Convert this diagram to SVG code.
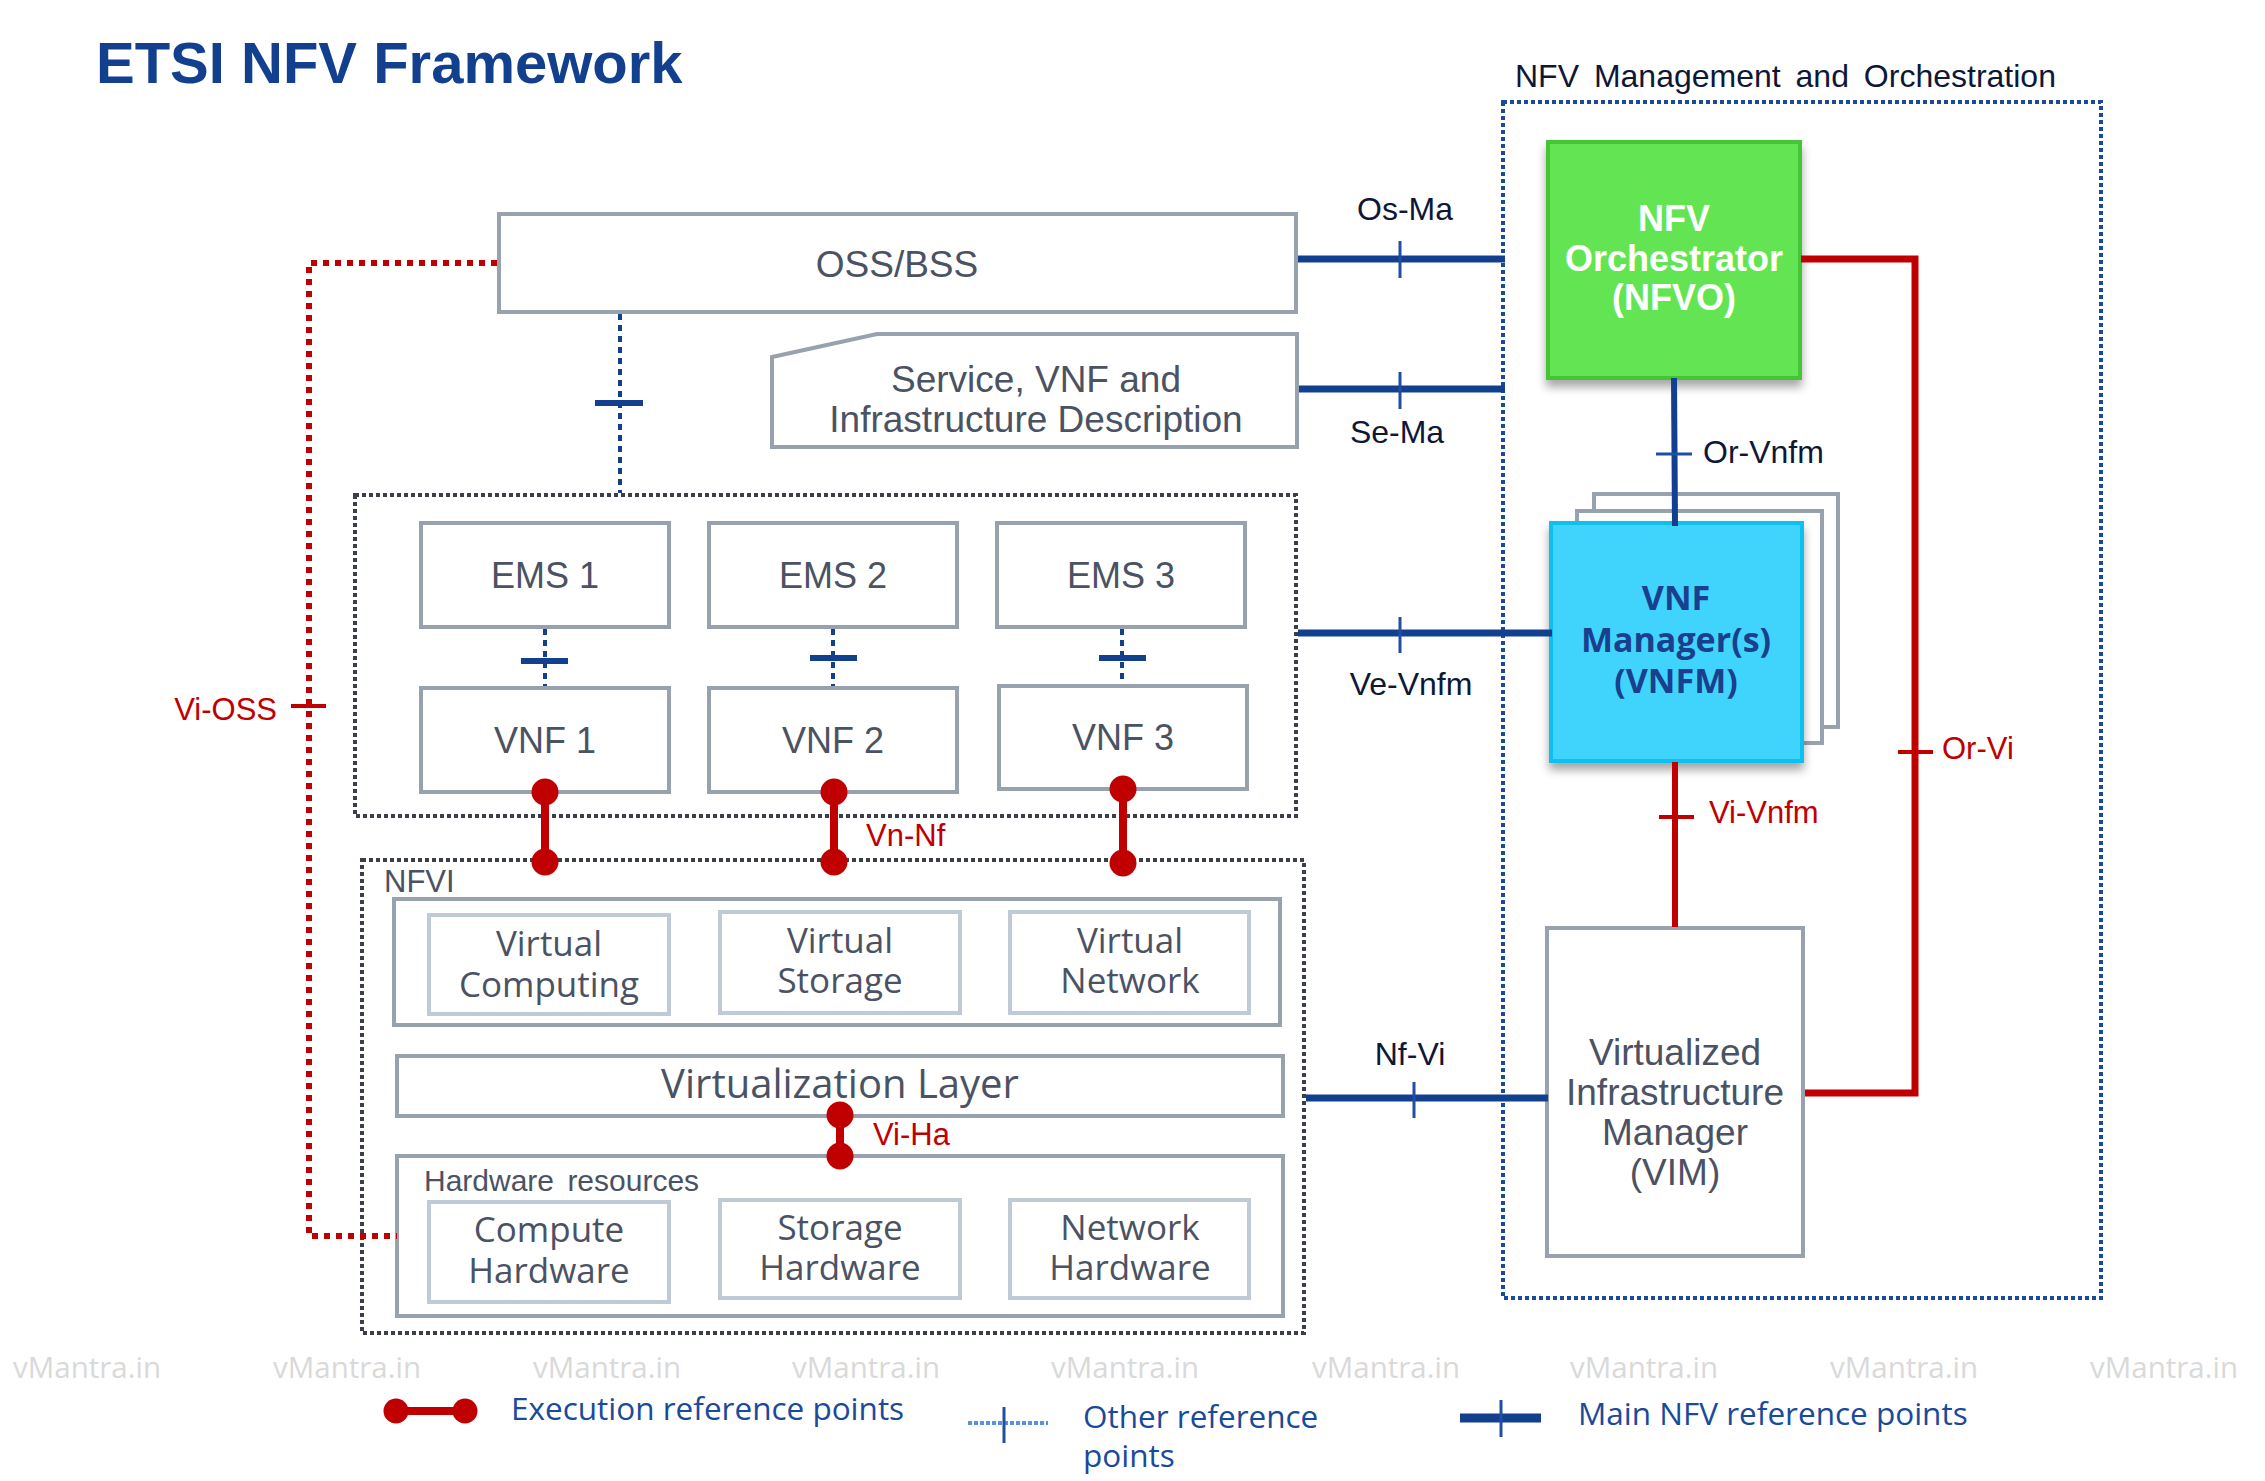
<svg xmlns="http://www.w3.org/2000/svg" width="2265" height="1481" viewBox="0 0 2265 1481">
<defs>
<style>
.box{fill:#fff;stroke:#98a2ae;stroke-width:4}
.ibox{fill:#fff;stroke:#c0cad6;stroke-width:4}
.t{font-family:"Liberation Sans",Arial,sans-serif;fill:#4a5263;text-anchor:middle}
.o{font-family:"Open Sans","Noto Sans",sans-serif;fill:#4a5263;text-anchor:middle}
.lbl{font-family:"Liberation Sans",Arial,sans-serif;fill:#0e1836;font-size:32px}
.rl{font-family:"Liberation Sans",Arial,sans-serif;fill:#c00000;font-size:31px}
.main{stroke:#12408f;stroke-width:7;fill:none}
.tick{stroke:#1f4fa5;stroke-width:3;fill:none}
.red{stroke:#c00000;stroke-width:7;fill:none}
.rtick{stroke:#c00000;stroke-width:4;fill:none}
.bdot{stroke:#12408f;stroke-width:4;stroke-dasharray:6 5;fill:none}
.btick{stroke:#12408f;stroke-width:6;fill:none}
.exe{stroke:#c00000;stroke-width:8;fill:none}
.dot{fill:#c00000}
.wm{font-family:"Open Sans","Noto Sans",sans-serif;fill:#d9d9d9;font-size:29.5px}
.leg{font-family:"Open Sans","Noto Sans",sans-serif;fill:#1a4a9a;font-size:31.5px}
</style>
<filter id="sh" x="-20%" y="-20%" width="140%" height="150%">
<feDropShadow dx="0" dy="7" stdDeviation="5" flood-color="#000" flood-opacity="0.35"/>
</filter>
</defs>
<rect width="2265" height="1481" fill="#fff"/>

<text x="96" y="83" font-family="Liberation Sans,Arial,sans-serif" font-weight="bold" font-size="58" fill="#12408f">ETSI NFV Framework</text>

<!-- containers -->
<g id="mano">
<rect x="1503" y="102" width="598" height="1196" fill="none" stroke="#1a4a9a" stroke-width="4" stroke-dasharray="4 3"/>
<text x="1515" y="87" class="lbl" font-size="32" word-spacing="6">NFV Management and Orchestration</text>
</g>
<g id="ems-vnf-domain">
<rect x="355" y="495" width="941" height="321" fill="none" stroke="#3b3f4a" stroke-width="4" stroke-dasharray="4 3"/>
</g>
<g id="nfvi">
<rect x="362" y="860" width="942" height="473" fill="none" stroke="#3b3f4a" stroke-width="4" stroke-dasharray="4 3"/>
<text x="384" y="892" font-family="Liberation Sans,Arial,sans-serif" font-size="31" fill="#4a5263">NFVI</text>
</g>

<!-- nodes -->
<g id="oss-bss"><rect class="box" x="499" y="214" width="797" height="98"/><text class="t" x="897" y="277" font-size="37">OSS/BSS</text></g>
<g id="service-desc"><polygon class="box" points="772,357 877,334 1297,334 1297,447 772,447"/>
<text class="t" font-size="37"><tspan x="1036" y="392">Service, VNF and</tspan><tspan x="1036" y="432">Infrastructure Description</tspan></text></g>

<g id="ems1"><rect class="box" x="421" y="523" width="248" height="104"/><text class="t" x="545" y="588" font-size="36">EMS 1</text></g>
<g id="ems2"><rect class="box" x="709" y="523" width="248" height="104"/><text class="t" x="833" y="588" font-size="36">EMS 2</text></g>
<g id="ems3"><rect class="box" x="997" y="523" width="248" height="104"/><text class="t" x="1121" y="588" font-size="36">EMS 3</text></g>
<g id="vnf1"><rect class="box" x="421" y="688" width="248" height="104"/><text class="t" x="545" y="753" font-size="36">VNF 1</text></g>
<g id="vnf2"><rect class="box" x="709" y="688" width="248" height="104"/><text class="t" x="833" y="753" font-size="36">VNF 2</text></g>
<g id="vnf3"><rect class="box" x="999" y="686" width="248" height="103"/><text class="t" x="1123" y="750" font-size="36">VNF 3</text></g>

<g id="virtual-resources"><rect class="box" x="394" y="899" width="886" height="126"/></g>
<g id="virtual-computing"><rect class="ibox" x="429" y="915" width="240" height="99"/><text class="o" font-size="35"><tspan x="549" y="956">Virtual</tspan><tspan x="549" y="997">Computing</tspan></text></g>
<g id="virtual-storage"><rect class="ibox" x="720" y="912" width="240" height="101"/><text class="o" font-size="35"><tspan x="840" y="953">Virtual</tspan><tspan x="840" y="993">Storage</tspan></text></g>
<g id="virtual-network"><rect class="ibox" x="1010" y="912" width="239" height="101"/><text class="o" font-size="35"><tspan x="1130" y="953">Virtual</tspan><tspan x="1130" y="993">Network</tspan></text></g>

<g id="virtualization-layer"><rect class="box" x="397" y="1056" width="886" height="60"/><text class="o" x="840" y="1098" font-size="40" fill="#5a6270">Virtualization Layer</text></g>

<g id="hardware-resources"><rect class="box" x="397" y="1156" width="886" height="160"/>
<text x="424" y="1191" font-family="Liberation Sans,Arial,sans-serif" font-size="30" fill="#4a5263" word-spacing="5">Hardware resources</text></g>
<g id="compute-hw"><rect class="ibox" x="429" y="1202" width="240" height="100"/><text class="o" font-size="35"><tspan x="549" y="1242">Compute</tspan><tspan x="549" y="1283">Hardware</tspan></text></g>
<g id="storage-hw"><rect class="ibox" x="720" y="1200" width="240" height="98"/><text class="o" font-size="35"><tspan x="840" y="1240">Storage</tspan><tspan x="840" y="1280">Hardware</tspan></text></g>
<g id="network-hw"><rect class="ibox" x="1010" y="1200" width="239" height="98"/><text class="o" font-size="35"><tspan x="1130" y="1240">Network</tspan><tspan x="1130" y="1280">Hardware</tspan></text></g>

<g id="nfvo"><rect x="1548" y="142" width="252" height="236" fill="#63e553" stroke="#44c435" stroke-width="4" filter="url(#sh)"/>
<text font-family="Liberation Sans,Arial,sans-serif" font-weight="bold" font-size="36" fill="#fff" text-anchor="middle"><tspan x="1674" y="231">NFV</tspan><tspan x="1674" y="271">Orchestrator</tspan><tspan x="1674" y="310">(NFVO)</tspan></text></g>

<g id="vnfm">
<rect x="1594" y="494" width="244" height="233" fill="#fff" stroke="#98a2ae" stroke-width="4"/>
<rect x="1577" y="511" width="245" height="232" fill="#fff" stroke="#98a2ae" stroke-width="4"/>
<rect x="1551" y="523" width="251" height="238" fill="#40d4fc" stroke="#10c0f0" stroke-width="4" filter="url(#sh)"/>
<text font-family="Open Sans,Noto Sans,sans-serif" font-weight="bold" font-size="34" fill="#1a3f8c" text-anchor="middle"><tspan x="1676" y="610">VNF</tspan><tspan x="1676" y="652">Manager(s)</tspan><tspan x="1676" y="693">(VNFM)</tspan></text></g>

<g id="vim"><rect class="box" x="1547" y="928" width="256" height="328"/>
<text class="t" font-size="37"><tspan x="1675" y="1065">Virtualized</tspan><tspan x="1675" y="1105">Infrastructure</tspan><tspan x="1675" y="1145">Manager</tspan><tspan x="1675" y="1185">(VIM)</tspan></text></g>

<!-- connectors -->
<g id="connectors">
<!-- Vi-OSS -->
<path d="M497,263 H309 V1236 H397" fill="none" stroke="#c00000" stroke-width="6" stroke-dasharray="6 6"/>
<line class="rtick" x1="291" y1="706" x2="326" y2="706"/>
<text class="rl" x="277" y="720" text-anchor="end" font-size="34">Vi-OSS</text>
<!-- OSS to EMS domain -->
<line class="bdot" x1="620" y1="314" x2="620" y2="493"/>
<line class="btick" x1="595" y1="403" x2="643" y2="403"/>
<!-- EMS-VNF -->
<line class="bdot" x1="545" y1="629" x2="545" y2="686"/>
<line class="btick" x1="521" y1="661" x2="568" y2="661"/>
<line class="bdot" x1="833" y1="629" x2="833" y2="686"/>
<line class="btick" x1="810" y1="658" x2="857" y2="658"/>
<line class="bdot" x1="1122" y1="629" x2="1122" y2="684"/>
<line class="btick" x1="1099" y1="658" x2="1146" y2="658"/>
<!-- Vn-Nf -->
<line class="exe" x1="545" y1="792" x2="545" y2="862"/><circle class="dot" cx="545" cy="792" r="13.5"/><circle class="dot" cx="545" cy="862" r="13.5"/>
<line class="exe" x1="834" y1="792" x2="834" y2="862"/><circle class="dot" cx="834" cy="792" r="13.5"/><circle class="dot" cx="834" cy="862" r="13.5"/>
<line class="exe" x1="1123" y1="789" x2="1123" y2="863"/><circle class="dot" cx="1123" cy="789" r="13.5"/><circle class="dot" cx="1123" cy="863" r="13.5"/>
<text class="rl" x="866" y="846" font-size="27">Vn-Nf</text>
<!-- Vi-Ha -->
<line class="exe" x1="840" y1="1115" x2="840" y2="1156"/><circle class="dot" cx="840" cy="1115" r="13.5"/><circle class="dot" cx="840" cy="1156" r="13.5"/>
<text class="rl" x="873" y="1145" font-size="28">Vi-Ha</text>
<!-- Os-Ma -->
<line class="main" x1="1298" y1="259" x2="1505" y2="259"/>
<line class="tick" x1="1400" y1="241" x2="1400" y2="278"/>
<text class="lbl" x="1405" y="220" text-anchor="middle">Os-Ma</text>
<!-- Se-Ma -->
<line class="main" x1="1299" y1="389" x2="1505" y2="389"/>
<line class="tick" x1="1400" y1="372" x2="1400" y2="409"/>
<text class="lbl" x="1397" y="443" text-anchor="middle">Se-Ma</text>
<!-- Or-Vnfm -->
<line x1="1674" y1="378" x2="1675" y2="526" stroke="#12408f" stroke-width="6"/>
<line class="tick" x1="1656" y1="454" x2="1692" y2="454"/>
<text class="lbl" x="1703" y="463">Or-Vnfm</text>
<!-- Ve-Vnfm -->
<line class="main" x1="1298" y1="633" x2="1552" y2="633"/>
<line class="tick" x1="1400" y1="617" x2="1400" y2="653"/>
<text class="lbl" x="1411" y="695" text-anchor="middle">Ve-Vnfm</text>
<!-- Vi-Vnfm -->
<line x1="1675" y1="762" x2="1675" y2="927" stroke="#c00000" stroke-width="6"/>
<line class="rtick" x1="1659" y1="817" x2="1694" y2="817"/>
<text class="rl" x="1709" y="823" font-size="32">Vi-Vnfm</text>
<!-- Or-Vi -->
<path class="red" d="M1801,259 H1915 V1093 H1805"/>
<line class="rtick" x1="1898" y1="752" x2="1933" y2="752"/>
<text class="rl" x="1942" y="759" font-size="32">Or-Vi</text>
<!-- Nf-Vi -->
<line class="main" x1="1306" y1="1098" x2="1548" y2="1098"/>
<line class="tick" x1="1414" y1="1082" x2="1414" y2="1118"/>
<text class="lbl" x="1410" y="1065" text-anchor="middle">Nf-Vi</text>
</g>

<!-- watermark -->
<g id="watermark">
<text class="wm" x="13" y="1378">vMantra.in</text>
<text class="wm" x="273" y="1378">vMantra.in</text>
<text class="wm" x="533" y="1378">vMantra.in</text>
<text class="wm" x="792" y="1378">vMantra.in</text>
<text class="wm" x="1051" y="1378">vMantra.in</text>
<text class="wm" x="1312" y="1378">vMantra.in</text>
<text class="wm" x="1570" y="1378">vMantra.in</text>
<text class="wm" x="1830" y="1378">vMantra.in</text>
<text class="wm" x="2090" y="1378">vMantra.in</text>
</g>

<!-- legend -->
<g id="legend">
<line class="exe" x1="396" y1="1411" x2="465" y2="1411"/><circle class="dot" cx="396" cy="1411" r="12.5"/><circle class="dot" cx="465" cy="1411" r="12.5"/>
<text class="leg" x="511" y="1420">Execution reference points</text>
<line x1="968" y1="1423" x2="1048" y2="1423" stroke="#5b8fe0" stroke-width="4" stroke-dasharray="4 2"/>
<line class="tick" x1="1004" y1="1407" x2="1004" y2="1443"/>
<text class="leg"><tspan x="1083" y="1428">Other reference</tspan><tspan x="1083" y="1467">points</tspan></text>
<line x1="1460" y1="1418" x2="1541" y2="1418" stroke="#12408f" stroke-width="9"/>
<line class="tick" x1="1501" y1="1400" x2="1501" y2="1437"/>
<text class="leg" x="1578" y="1425">Main NFV reference points</text>
</g>
</svg>
